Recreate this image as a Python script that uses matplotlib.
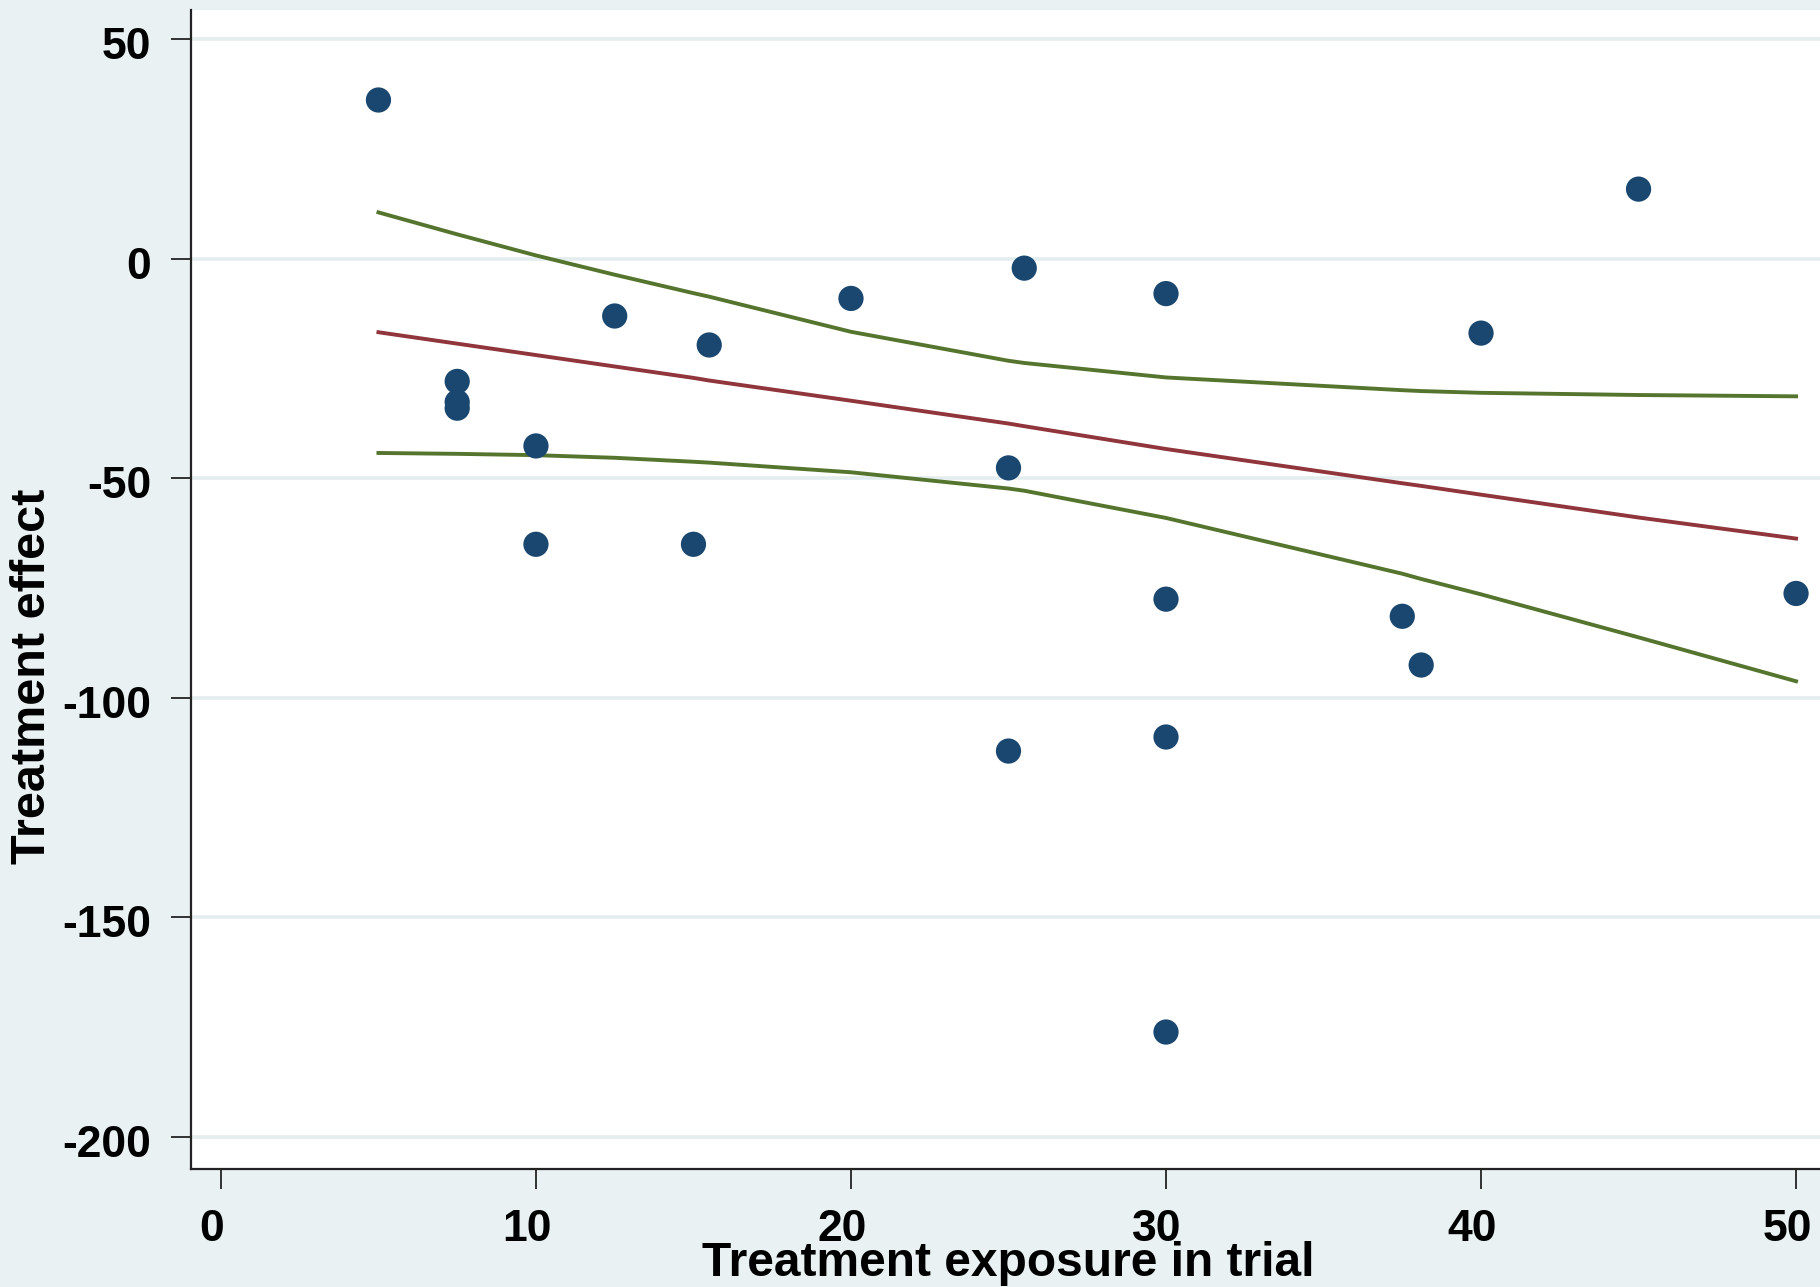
import matplotlib as mpl
mpl.use('Agg')
import matplotlib.pyplot as plt
import matplotlib.transforms as mtransforms

# trial data: exposure vs treatment effect
exposure = [5, 7.5, 7.5, 7.5, 10, 10, 12.5, 15, 15.5, 20, 25, 25, 25.5,
            30, 30, 30, 30, 37.5, 38.1, 40, 45, 50]
effect = [36.2, -27.9, -32.6, -34.0, -42.6, -65.0, -13.0, -65.0, -19.6, -9.0,
          -47.6, -112.1, -2.1, -7.9, -77.5, -108.9, -176.1, -81.4, -92.5,
          -16.9, 15.9, -76.2]

# fitted line and confidence band, evaluated at the exposure values
fit_x = [5, 7.5, 10, 12.5, 15, 15.5, 20, 25, 25.5, 30, 37.5, 38.1, 40, 45, 50]
fit_y = [-16.7, -19.3, -21.9, -24.5, -27.1, -27.7, -32.3, -37.5, -38.1,
         -43.3, -51.1, -51.7, -53.7, -58.9, -63.7]
ci_upper = [10.6, 5.6, 0.8, -3.6, -7.8, -8.6, -16.6, -23.2, -23.7,
            -27.0, -29.9, -30.1, -30.5, -31.0, -31.3]
ci_lower = [-44.2, -44.4, -44.7, -45.3, -46.2, -46.4, -48.6, -52.3, -52.8,
            -59.0, -71.7, -72.9, -76.4, -86.2, -96.2]

xticks = [0, 10, 20, 30, 40, 50]
yticks = [50, 0, -50, -100, -150, -200]

bg = '#E9F1F3'
navy = '#1A476F'
maroon = '#90353B'
green = '#55752F'

plt.rcParams['font.family'] = ['Liberation Sans', 'DejaVu Sans']

fig = plt.figure(figsize=(18.2, 12.87), dpi=100, facecolor=bg)
ax = fig.add_axes([191 / 1820, 1 - 1169 / 1287, 1629 / 1820, 1159 / 1287])
ax.set_facecolor('white')

for y in yticks:
    ax.axhline(y, color='#E3EDEF', lw=2.6, zorder=0)

ax.plot(fit_x, ci_upper, color=green, lw=2.8, zorder=2)
ax.plot(fit_x, ci_lower, color=green, lw=2.8, zorder=2)
ax.plot(fit_x, fit_y, color=maroon, lw=2.8, zorder=2)
ax.scatter(exposure, effect, s=330, color=navy, edgecolors='none', zorder=3)

ax.set_xlim(-0.95, 50.76)
ax.set_ylim(-207.3, 56.7)
ax.set_xticks(xticks)
ax.set_yticks(yticks)
ax.set_xticklabels([str(t) for t in xticks])
ax.set_yticklabels([str(t) for t in yticks])

for side in ['top', 'right']:
    ax.spines[side].set_visible(False)
for side in ['left', 'bottom']:
    ax.spines[side].set_linewidth(1.6)
    ax.spines[side].set_color('#222222')

ax.tick_params(axis='both', length=14.5, width=1.3, color='#222222',
               labelsize=32, pad=14)
for lab in ax.get_xticklabels() + ax.get_yticklabels():
    lab.set_fontweight('bold')

# x tick labels sit a little left of their ticks, y labels a bit low
xshift = mtransforms.ScaledTranslation(-9 / 100, 0, fig.dpi_scale_trans)
for lab in ax.get_xticklabels():
    lab.set_transform(lab.get_transform() + xshift)
yshift = mtransforms.ScaledTranslation(0, -4 / 100, fig.dpi_scale_trans)
for lab in ax.get_yticklabels():
    lab.set_transform(lab.get_transform() + yshift)

fig.text(1008 / 1820, 1 - 1276 / 1287, 'Treatment exposure in trial',
         ha='center', va='baseline', fontsize=34.5, fontweight='bold')
fig.text(33 / 1820, 1 - 676 / 1287, 'Treatment effect', rotation=90,
         ha='center', va='center', fontsize=35, fontweight='bold')

fig.savefig('out.png', dpi=100, facecolor=bg)
plt.close(fig)
